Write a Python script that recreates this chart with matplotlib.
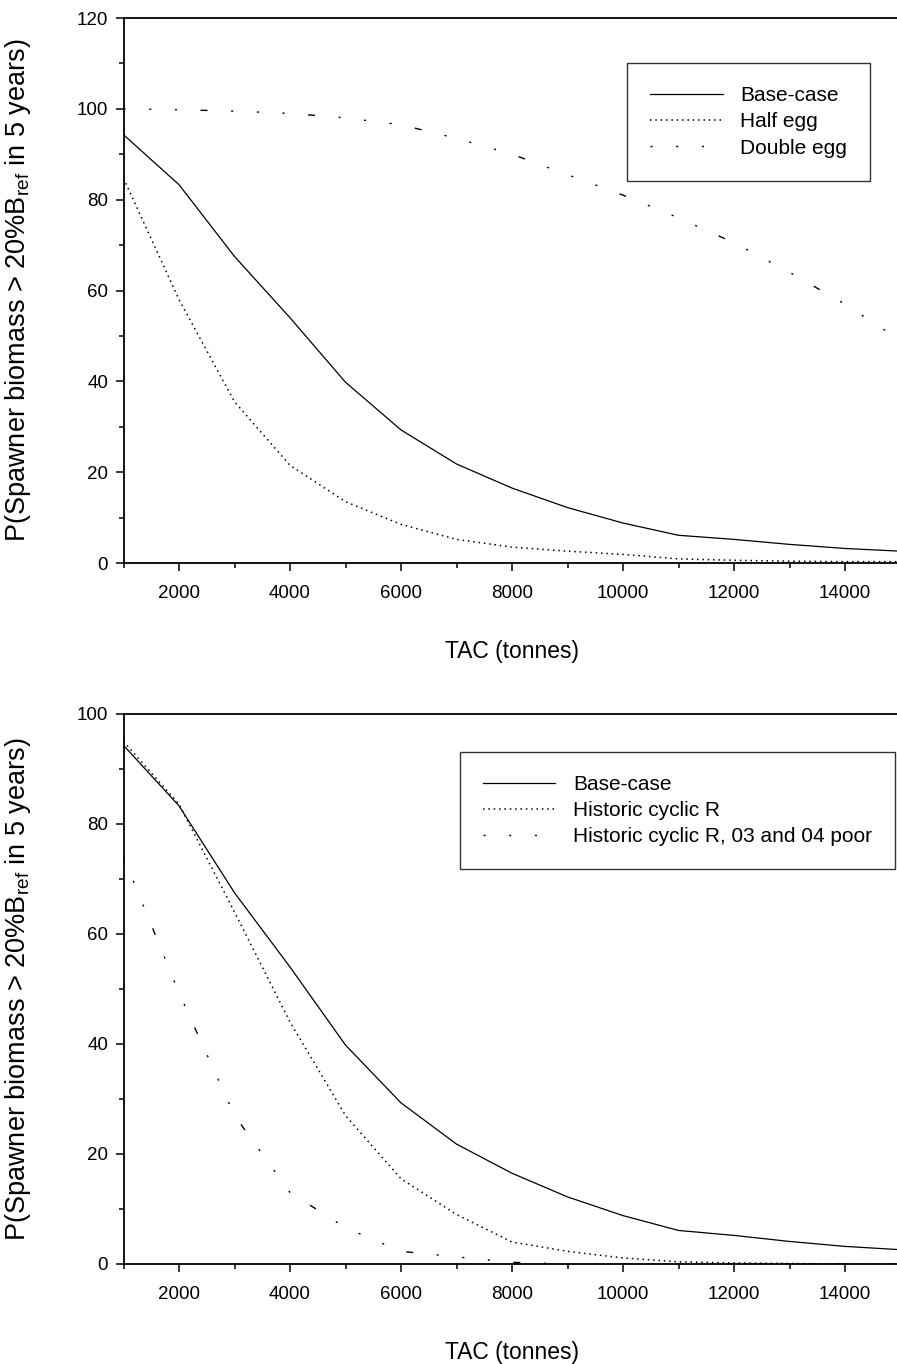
import matplotlib
matplotlib.use("Agg")
import matplotlib.pyplot as plt
from matplotlib.ticker import MultipleLocator

plt.rcParams['font.family'] = ['Liberation Sans', 'DejaVu Sans']
plt.rcParams['mathtext.fontset'] = 'custom'
plt.rcParams['mathtext.rm'] = 'Liberation Sans'

# TAC values (tonnes)
tac = [1000, 2000, 3000, 4000, 5000, 6000, 7000, 8000,
       9000, 10000, 11000, 12000, 13000, 14000, 15000]

# top panel
base_case = [94.3, 83.3, 67.5, 54.0, 39.8, 29.3, 21.8, 16.5,
             12.2, 8.8, 6.1, 5.2, 4.1, 3.2, 2.6]
half_egg = [84.7, 58.0, 35.5, 21.5, 13.5, 8.5, 5.2, 3.5,
            2.6, 1.9, 0.9, 0.6, 0.4, 0.3, 0.3]
double_egg = [100.0, 99.8, 99.5, 99.0, 98.0, 96.5, 93.5, 90.0,
              85.5, 81.0, 76.0, 70.5, 64.0, 57.0, 49.0]

# bottom panel
hist_cyclic = [95.0, 83.6, 64.0, 44.0, 27.0, 15.5, 9.0, 4.0,
               2.3, 1.1, 0.4, 0.2, 0.1, 0.0, 0.0]
hist_poor = [74.0, 49.3, 27.0, 13.0, 6.6, 2.3, 1.3, 0.3,
             0.0, 0.0, 0.0, 0.0, 0.0, 0.0, 0.0]

dotted = (0, (1, 2.5))
dashdot = (0, (1.5, 17, 1.5, 17, 1.5, 17, 5, 17))
ylab = 'P(Spawner biomass > 20%B$\\mathregular{_{ref}}$ in 5 years)'

W, H = 897, 1364
fig = plt.figure(figsize=(W / 100, H / 100), dpi=100)

def pos(l, t, r, b):
    return [l / W, 1 - b / H, (r - l) / W, (b - t) / H]

ax1 = fig.add_axes(pos(123.5, 18, 900.5, 563))
ax2 = fig.add_axes(pos(123.5, 714, 900.5, 1264))

def style(ax, ymax, ystep, h):
    ax.set_xlim(1000, 15000)
    ax.set_ylim(0, ymax)
    ax.xaxis.set_major_locator(MultipleLocator(2000))
    ax.xaxis.set_minor_locator(MultipleLocator(1000))
    ax.yaxis.set_major_locator(MultipleLocator(ystep))
    ax.yaxis.set_minor_locator(MultipleLocator(ystep / 2))
    ax.tick_params(which='both', direction='out', width=1.1, top=False, right=False)
    ax.tick_params(which='major', length=6, labelsize=13.5)
    ax.tick_params(which='minor', length=3.5)
    ax.tick_params(axis='x', pad=10)
    ax.tick_params(axis='y', pad=5)
    for s in ax.spines.values():
        s.set_linewidth(1.3)
    ax.spines['right'].set_visible(False)
    ax.set_xlabel('TAC (tonnes)', fontsize=16.5)
    ax.set_ylabel(ylab, fontsize=19.5)
    ax.xaxis.set_label_coords((512 - 123.5) / 777, -77 / h)
    ax.yaxis.set_label_coords(-90 / 777, 0.5)

def add_legend(ax, anchor):
    leg = ax.legend(loc='upper right', bbox_to_anchor=anchor, fontsize=15,
                    frameon=True, fancybox=False, edgecolor='black', handlelength=3.5,
                    handletextpad=0.85, borderpad=1.1, labelspacing=0.35, borderaxespad=0)
    leg.get_frame().set_linewidth(1.0)

ax1.plot(tac, base_case, color='black', lw=0.9, label='Base-case')
ax1.plot(tac, half_egg, color='black', lw=1.1, linestyle=dotted, label='Half egg')
ax1.plot(tac, double_egg, color='black', lw=1.0, linestyle=dashdot, label='Double egg')
style(ax1, 120, 20, 545)
add_legend(ax1, (0.961, 0.917))

ax2.plot(tac, base_case, color='black', lw=0.9, label='Base-case')
ax2.plot(tac, hist_cyclic, color='black', lw=1.1, linestyle=dotted, label='Historic cyclic R')
ax2.plot(tac, hist_poor, color='black', lw=1.0, linestyle=dashdot, label='Historic cyclic R, 03 and 04 poor')
style(ax2, 100, 20, 550)
add_legend(ax2, (0.993, 0.931))

fig.savefig('out.png', dpi=100)
